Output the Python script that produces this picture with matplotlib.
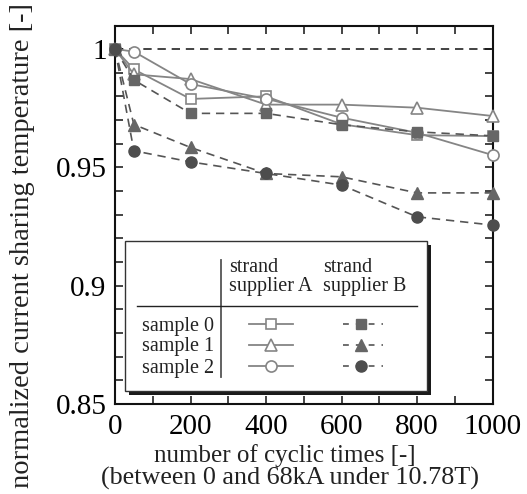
import matplotlib
matplotlib.use("Agg")
import matplotlib.pyplot as plt
from matplotlib.patches import Rectangle
from matplotlib.lines import Line2D
from matplotlib.ticker import MultipleLocator

plt.rcParams["font.family"] = ["Liberation Serif", "DejaVu Serif"]
plt.rcParams["mathtext.fontset"] = "stix"

# cyclic loading counts
cycles = [0, 50, 200, 400, 600, 800, 1000]

# normalized current sharing temperature, strand supplier A (open markers)
a_sample0 = [1.000, 0.9914, 0.9789, 0.9800, 0.9682, 0.9636, 0.9632]
a_sample1 = [1.000, 0.9893, 0.9873, 0.9765, 0.9765, 0.9752, 0.9717]
a_sample2 = [1.000, 0.9989, 0.9852, 0.9790, 0.9710, 0.9646, 0.9552]

# strand supplier B (filled markers)
b_sample0 = [1.000, 0.9869, 0.9728, 0.9728, 0.9680, 0.9650, 0.9633]
b_sample1 = [1.000, 0.9681, 0.9584, 0.9474, 0.9460, 0.9392, 0.9392]
b_sample2 = [1.000, 0.9570, 0.9523, 0.9474, 0.9425, 0.9291, 0.9256]

sample_labels = ["sample 0", "sample 1", "sample 2"]
supplier_labels = ["strand\nsupplier A", "strand\nsupplier B"]
reference_level = 1.0

W, H = 527, 494
fig = plt.figure(figsize=(W / 100, H / 100), dpi=100)
ax_l, ax_r, ax_t, ax_b = 115, 492.5, 26, 404
ax = fig.add_axes([ax_l / W, 1 - ax_b / H, (ax_r - ax_l) / W, (ax_b - ax_t) / H])


def fx(px):
    return (px - ax_l) / (ax_r - ax_l)


def fy(py):
    return (ax_b - py) / (ax_b - ax_t)


open_color = "#858585"
dash_color = "#555555"
a_style = dict(color=open_color, lw=1.3, ls="-", mfc="white", mec=open_color, mew=1.2)
b_styles = [
    dict(color=dash_color, lw=1.2, ls=(0, (5, 3.5)), mfc="#666666", mec="#666666"),
    dict(color=dash_color, lw=1.2, ls=(0, (5, 3.5)), mfc="#666666", mec="#666666"),
    dict(color=dash_color, lw=1.2, ls=(0, (5, 3.5)), mfc="#4d4d4d", mec="#4d4d4d"),
]
markers = [("s", 7.3), ("^", 8.5), ("o", 8.0)]

ax.axhline(reference_level, color="#222222", lw=1.2, ls=(0, (5, 3.5)), zorder=1)

for series, (m, ms) in zip([a_sample0, a_sample1, a_sample2], markers):
    ax.plot(cycles, series, marker=m, ms=ms, zorder=3, clip_on=False, **a_style)
for series, (m, ms), st in zip([b_sample0, b_sample1, b_sample2], markers, b_styles):
    ax.plot(cycles, series, marker=m, ms=ms, zorder=4, clip_on=False, **st)

ax.set_xlim(0, 1000)
ax.set_ylim(0.85, 1.0 + 23 / 118.3 * 0.05)
ax.xaxis.set_major_locator(MultipleLocator(200))
ax.xaxis.set_minor_locator(MultipleLocator(100))
ax.yaxis.set_major_locator(MultipleLocator(0.05))
ax.yaxis.set_minor_locator(MultipleLocator(0.01))
ax.set_yticks([0.85, 0.9, 0.95, 1.0])
ax.set_yticklabels(["0.85", "0.9", "0.95", "1"])
ax.tick_params(which="both", direction="in", top=True, right=True,
               length=6, width=1.1, labelsize=21, color="#111111")
ax.tick_params(axis="x", pad=7)
ax.tick_params(axis="y", pad=6)
for sp in ax.spines.values():
    sp.set_linewidth(1.5)
    sp.set_color("#111111")

# legend table drawn in axes fraction coordinates
bx0, by0, bx1, by1 = 125, 241, 427, 391
shadow = Rectangle((fx(bx0 + 4), fy(by1 + 4)), fx(bx1 + 4) - fx(bx0 + 4),
                   fy(by0 + 4) - fy(by1 + 4), transform=ax.transAxes,
                   facecolor="#1a1a1a", edgecolor="none", zorder=5)
box = Rectangle((fx(bx0), fy(by1)), fx(bx1) - fx(bx0), fy(by0) - fy(by1),
                transform=ax.transAxes, facecolor="white", edgecolor="#333333",
                lw=1.0, zorder=6)
ax.add_patch(shadow)
ax.add_patch(box)
ax.add_line(Line2D([fx(220.5), fx(220.5)], [fy(260), fy(377)], transform=ax.transAxes,
                   color="#555555", lw=1.3, zorder=7))
ax.add_line(Line2D([fx(137), fx(417)], [fy(306), fy(306)], transform=ax.transAxes,
                   color="#222222", lw=1.0, zorder=7))

for lab, px in zip(supplier_labels, [229, 323]):
    ax.text(fx(px), fy(277), lab, transform=ax.transAxes, ha="left", va="center",
            fontsize=14.5, linespacing=0.95, zorder=8, color="#222222")

rows = [324, 345, 366]
for lab, py in zip(sample_labels, rows):
    ax.text(fx(142), fy(py + 2), lab, transform=ax.transAxes, ha="left", va="center",
            fontsize=14.5, zorder=8, color="#222222")

for py, (m, ms), st in zip(rows, markers, b_styles):
    ax.plot([fx(249), fx(293)], [fy(py), fy(py)], transform=ax.transAxes,
            color=open_color, lw=1.3, zorder=8)
    ax.plot([fx(271)], [fy(py)], transform=ax.transAxes, marker=m, ms=ms,
            mfc="white", mec=open_color, mew=1.2, ls="none", zorder=9)
    ax.plot([fx(343), fx(383)], [fy(py), fy(py)], transform=ax.transAxes,
            color=dash_color, lw=1.2, ls=(0, (3.5, 4.2)), zorder=8)
    ax.plot([fx(361)], [fy(py)], transform=ax.transAxes, marker=m, ms=ms,
            mfc=st["mfc"], mec=st["mec"], ls="none", zorder=9)

fig.text(285 / W, 1 - 456 / H, "number of cyclic times [-]", ha="center", va="center",
         fontsize=18, color="#222222")
fig.text(290 / W, 1 - 478 / H, "(between 0 and 68kA under 10.78T)", ha="center",
         va="center", fontsize=18.8, color="#222222")
fig.text(23 / W, 1 - 246 / H, "normalized current sharing temperature [-]", rotation=90,
         ha="center", va="center", fontsize=20.5, color="#222222")

fig.savefig("out.png", dpi=100)
